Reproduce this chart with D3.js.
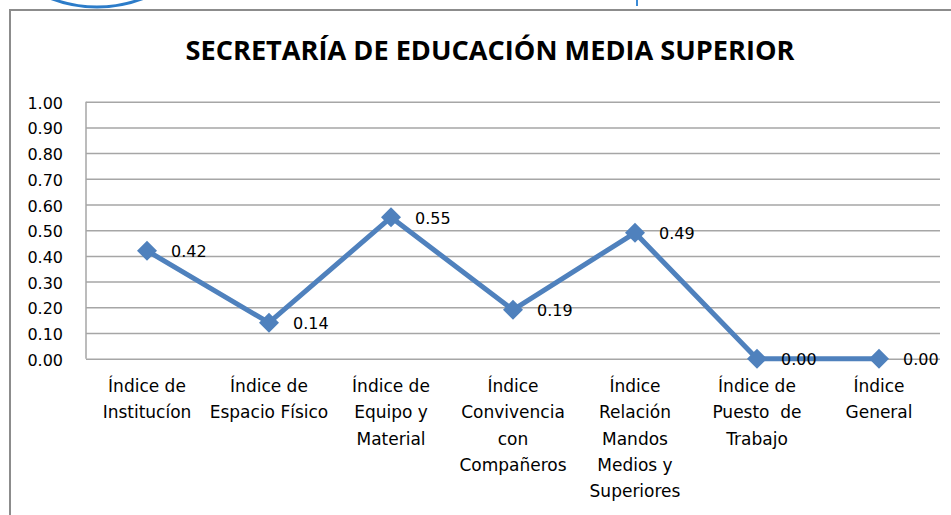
<!DOCTYPE html>
<html>
<head>
<meta charset="utf-8">
<script src="https://cdn.jsdelivr.net/npm/d3@7"></script>
<style>
  body { margin: 0; background: #fff; }
  svg { display: block; }
  .grid line { stroke: #a6a6a6; stroke-width: 1.5; }
  .grid text, .cat text, .lbl { font-family: "DejaVu Sans", sans-serif; fill: #000; }
</style>
</head>
<body>
<svg id="chart" width="951" height="515"></svg>
<script>
// data
const categories = [
  "Índice de\nInstitucíon",
  "Índice de\nEspacio Físico",
  "Índice de\nEquipo y\nMaterial",
  "Índice\nConvivencia\ncon\nCompañeros",
  "Índice\nRelación\nMandos\nMedios y\nSuperiores",
  "Índice de\nPuesto  de\nTrabajo",
  "Índice\nGeneral"
];
const values = [0.42, 0.14, 0.55, 0.19, 0.49, 0.00, 0.00];
const yTicks = [0, 0.1, 0.2, 0.3, 0.4, 0.5, 0.6, 0.7, 0.8, 0.9, 1.0];
const title = "SECRETARÍA DE EDUCACIÓN MEDIA SUPERIOR";

const plot = {left: 86, right: 940, top: 101.7, bottom: 358.7};
const blue = "#4f81bd";

const svg = d3.select("#chart");

// bits of the page header cut off at the top
svg.append("circle")
    .attr("cx", 97).attr("cy", -122).attr("r", 129)
    .attr("fill", "none").attr("stroke", "#2c7cc9").attr("stroke-width", 3);
svg.append("line")
    .attr("x1", 637).attr("x2", 637).attr("y1", 0).attr("y2", 6)
    .attr("stroke", "#3a8ad6").attr("stroke-width", 2);

// chart frame
svg.append("rect")
    .attr("x", 10).attr("y", 10).attr("width", 1000).attr("height", 600)
    .attr("fill", "#fff").attr("stroke", "#8c8c8c").attr("stroke-width", 2);

svg.append("text")
    .attr("x", 490).attr("y", 60)
    .attr("text-anchor", "middle")
    .attr("textLength", 609).attr("lengthAdjust", "spacingAndGlyphs")
    .style("font-family", "'Liberation Sans Narrow', 'Open Sans', sans-serif")
    .style("font-weight", "bold").style("font-size", "26.5px")
    .text(title);

const x = d3.scaleBand()
    .domain(categories)
    .range([plot.left, plot.right]);

const y = d3.scaleLinear()
    .domain([0, 1])
    .range([plot.bottom, plot.top]);

// gridlines + y labels
const gy = svg.append("g")
    .attr("class", "grid")
    .attr("transform", `translate(${plot.left},0)`)
    .call(d3.axisLeft(y)
        .tickValues(yTicks)
        .tickSize(-(plot.right - plot.left))
        .tickPadding(23)
        .tickFormat(d3.format(".2f")));
gy.select(".domain").remove();
gy.selectAll("text")
    .style("font-size", "16px")
    .attr("dy", null)
    .attr("y", 6.5);

svg.append("line")
    .attr("x1", plot.left).attr("x2", plot.left)
    .attr("y1", plot.top).attr("y2", plot.bottom)
    .attr("stroke", "#a6a6a6").attr("stroke-width", 1.5);

// category labels
const cat = svg.append("g").attr("class", "cat");
cat.selectAll("text")
    .data(categories)
    .join("text")
    .attr("x", d => x(d) + x.bandwidth() / 2)
    .attr("y", plot.bottom + 33.5)
    .attr("text-anchor", "middle")
    .style("font-size", "17px")
    .style("white-space", "pre")
    .selectAll("tspan")
    .data(d => d.split("\n"))
    .join("tspan")
    .attr("x", function() { return this.parentNode.getAttribute("x"); })
    .attr("dy", (d, i) => i === 0 ? 0 : 26.2)
    .text(d => d);

const pts = categories.map((c, i) => ({c: c, v: values[i]}));

const line = d3.line()
    .x(d => x(d.c) + x.bandwidth() / 2)
    .y(d => y(d.v));

svg.append("path")
    .datum(pts)
    .attr("d", line)
    .attr("fill", "none")
    .attr("stroke", blue)
    .attr("stroke-width", 5)
    .attr("stroke-linejoin", "round");

svg.selectAll("path.marker")
    .data(pts)
    .join("path")
    .attr("class", "marker")
    .attr("d", d3.symbol(d3.symbolSquare, 200))
    .attr("transform", d => `translate(${x(d.c) + x.bandwidth() / 2},${y(d.v)}) rotate(45)`)
    .attr("fill", blue);

svg.selectAll("text.lbl")
    .data(pts)
    .join("text")
    .attr("class", "lbl")
    .attr("x", d => x(d.c) + x.bandwidth() / 2 + 24)
    .attr("y", d => y(d.v) + 6.5)
    .style("font-size", "16px")
    .text(d => d3.format(".2f")(d.v));
</script>
</body>
</html>
